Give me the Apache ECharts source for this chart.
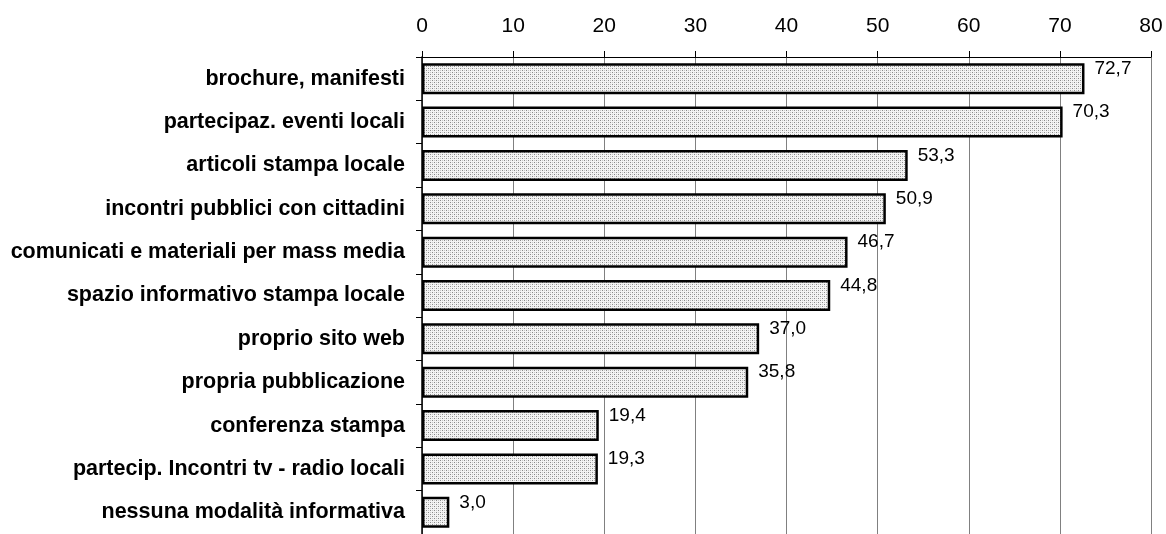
<!DOCTYPE html>
<html>
<head>
<meta charset="utf-8">
<script src="https://cdn.jsdelivr.net/npm/echarts@6/dist/echarts.min.js"></script>
<style>
  html, body { margin: 0; padding: 0; background: #fff; }
  #chart { width: 1166px; height: 534px; }
</style>
</head>
<body>
<div id="chart"></div>
<script>
// Modalità informative utilizzate (%)
const categories = [
  'brochure, manifesti',
  'partecipaz. eventi locali',
  'articoli stampa locale',
  'incontri pubblici con cittadini',
  'comunicati e materiali per mass media',
  'spazio informativo stampa locale',
  'proprio sito web',
  'propria pubblicazione',
  'conferenza stampa',
  'partecip. Incontri tv - radio locali',
  'nessuna modalità informativa'
];
const values = [72.7, 70.3, 53.3, 50.9, 46.7, 44.8, 37.0, 35.8, 19.4, 19.3, 3.0];
const axisTicks = [0, 10, 20, 30, 40, 50, 60, 70, 80];

// Stippled grey fill for the bars
function stipple() {
  const c = document.createElement('canvas');
  c.width = 4; c.height = 4;
  const g = c.getContext('2d');
  g.fillStyle = '#f4f4f4';
  g.fillRect(0, 0, 4, 4);
  g.fillStyle = '#8a8a8a';
  g.fillRect(0, 0, 1, 1);
  g.fillRect(2, 2, 1, 1);
  g.fillStyle = '#c8c8c8';
  g.fillRect(2, 0, 1, 1);
  g.fillRect(0, 2, 1, 1);
  return c;
}

const font = 'Arial, "Liberation Sans", sans-serif';
const chart = echarts.init(document.getElementById('chart'), null, { renderer: 'canvas' });

chart.setOption({
  backgroundColor: '#ffffff',
  animation: false,
  grid: { left: 422, top: 57, width: 729, height: 482, containLabel: false },
  xAxis: {
    type: 'value',
    position: 'top',
    min: axisTicks[0],
    max: axisTicks[axisTicks.length - 1],
    interval: axisTicks[1] - axisTicks[0],
    axisLine: { show: true, lineStyle: { color: '#000', width: 1 } },
    axisTick: { show: true, length: 6, lineStyle: { color: '#000' } },
    axisLabel: { color: '#000', fontFamily: font, fontSize: 21, margin: 20 },
    splitLine: { show: true, lineStyle: { color: '#808080', width: 1 } }
  },
  yAxis: {
    type: 'category',
    inverse: true,
    data: categories,
    axisLine: { show: true, lineStyle: { color: '#000', width: 1.5 } },
    axisTick: { show: true, length: 6, alignWithLabel: false, lineStyle: { color: '#000' } },
    axisLabel: { color: '#000', fontFamily: font, fontSize: 21.5, fontWeight: 'bold', margin: 17 },
    splitLine: { show: false }
  },
  series: [{
    type: 'bar',
    data: values,
    barWidth: 31,
    itemStyle: {
      color: { image: stipple(), repeat: 'repeat' },
      borderColor: '#000',
      borderWidth: 2.5
    },
    label: {
      show: true,
      position: 'right',
      distance: 10,
      offset: [0, -10],
      color: '#000',
      fontFamily: font,
      fontSize: 19,
      formatter: p => p.value.toFixed(1).replace('.', ',')
    }
  }]
});
</script>
</body>
</html>
